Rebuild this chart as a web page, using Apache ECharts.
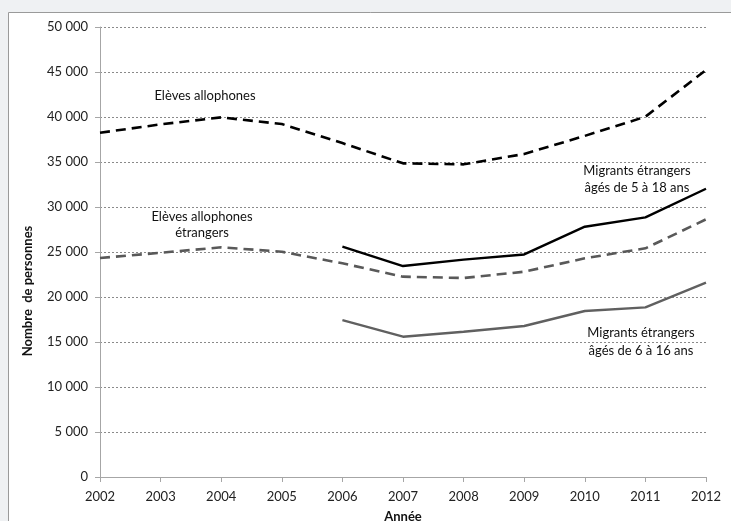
<!DOCTYPE html>
<html>
<head>
<meta charset="utf-8">
<script src="https://cdn.jsdelivr.net/npm/echarts@6/dist/echarts.min.js"></script>
<style>
  html, body { margin: 0; padding: 0; background: #eff1f3; }
  #container { width: 731px; height: 521px; }
</style>
</head>
<body>
<div id="container"></div>
<script>
// données
const years = ['2002', '2003', '2004', '2005', '2006', '2007', '2008', '2009', '2010', '2011', '2012']
const elevesAllophones = [38250, 39180, 39960, 39220, 37100, 34850, 34740, 35890, 37900, 40030, 45220]
const elevesAllophonesEtrangers = [24330, 24920, 25520, 25030, 23740, 22260, 22110, 22810, 24300, 25410, 28630]
const migrants5a18 = [null, null, null, null, 25590, 23440, 24150, 24730, 27810, 28850, 32030]
const migrants6a16 = [null, null, null, null, 17440, 15590, 16140, 16780, 18440, 18850, 21590]
const yMin = 0
const yMax = 50000
const yStep = 5000

const fontFamily = 'Lato, "Open Sans", sans-serif'

function fmt(v) {
  return String(v).replace(/\B(?=(\d{3})+(?!\d))/g, ' ')
}

let chart = echarts.init(document.getElementById('container'), null, { renderer: 'canvas' })

let option = {
  backgroundColor: '#eff1f3',
  animation: false,
  grid: {
    left: 100,
    right: 25,
    top: 27,
    bottom: 44,
    outerBoundsMode: 'none'
  },
  graphic: [
    // cadre blanc
    {
      type: 'rect',
      z: -10,
      shape: { x: 8.5, y: 12.5, width: 760, height: 540 },
      style: { fill: '#ffffff', stroke: '#9a9a9a', lineWidth: 1 }
    },
    {
      type: 'text',
      x: 28, y: 291,
      rotation: Math.PI / 2,
      style: {
        text: 'Nombre  de personnes',
        font: 'bold 13px ' + fontFamily,
        fill: '#111',
        align: 'center',
        verticalAlign: 'middle'
      }
    },
    {
      type: 'text',
      x: 205, y: 96,
      style: { text: 'Elèves allophones', font: '13px ' + fontFamily, fill: '#111', align: 'center', verticalAlign: 'middle' }
    },
    {
      type: 'text',
      x: 202, y: 225,
      style: { text: 'Elèves allophones\nétrangers', font: '13px ' + fontFamily, lineHeight: 16, fill: '#111', align: 'center', verticalAlign: 'middle' }
    },
    {
      type: 'text',
      x: 637, y: 179,
      style: { text: 'Migrants étrangers\nâgés de 5 à 18 ans', font: '13px ' + fontFamily, lineHeight: 17, fill: '#111', align: 'center', verticalAlign: 'middle' }
    },
    {
      type: 'text',
      x: 641, y: 342,
      style: { text: 'Migrants étrangers\nâgés de 6 à 16 ans', font: '13px ' + fontFamily, lineHeight: 18, fill: '#111', align: 'center', verticalAlign: 'middle' }
    }
  ],
  xAxis: {
    type: 'category',
    data: years,
    boundaryGap: false,
    name: 'Année',
    nameLocation: 'middle',
    nameGap: 33,
    nameTextStyle: { fontFamily: fontFamily, fontWeight: 'bold', fontSize: 13, color: '#111' },
    axisLine: { lineStyle: { color: '#a6a6a6', width: 1 } },
    axisTick: { show: true, alignWithLabel: true, length: 5, lineStyle: { color: '#a6a6a6' } },
    axisLabel: { interval: 0, margin: 13, fontFamily: fontFamily, fontSize: 13, color: '#222' },
    splitLine: { show: false }
  },
  yAxis: {
    type: 'value',
    min: yMin,
    max: yMax,
    interval: yStep,
    axisLine: { show: true, lineStyle: { color: '#a6a6a6', width: 1 } },
    axisTick: { show: true, length: 5, lineStyle: { color: '#a6a6a6' } },
    axisLabel: {
      margin: 12,
      fontFamily: fontFamily,
      fontSize: 13,
      color: '#222',
      formatter: fmt
    },
    splitLine: { show: true, lineStyle: { color: '#8a8a8a', width: 1, type: [2, 2] } }
  },
  series: [
    {
      name: 'Elèves allophones',
      type: 'line',
      data: elevesAllophones,
      symbol: 'none',
      lineStyle: { color: '#000000', width: 2.6, type: [10, 6] }
    },
    {
      name: 'Elèves allophones étrangers',
      type: 'line',
      data: elevesAllophonesEtrangers,
      symbol: 'none',
      lineStyle: { color: '#595959', width: 2.6, type: [10, 6] }
    },
    {
      name: 'Migrants étrangers âgés de 5 à 18 ans',
      type: 'line',
      data: migrants5a18,
      symbol: 'none',
      lineStyle: { color: '#000000', width: 2.4 }
    },
    {
      name: 'Migrants étrangers âgés de 6 à 16 ans',
      type: 'line',
      data: migrants6a16,
      symbol: 'none',
      lineStyle: { color: '#606060', width: 2.4 }
    }
  ]
}

option && chart.setOption(option)
</script>
</body>
</html>
